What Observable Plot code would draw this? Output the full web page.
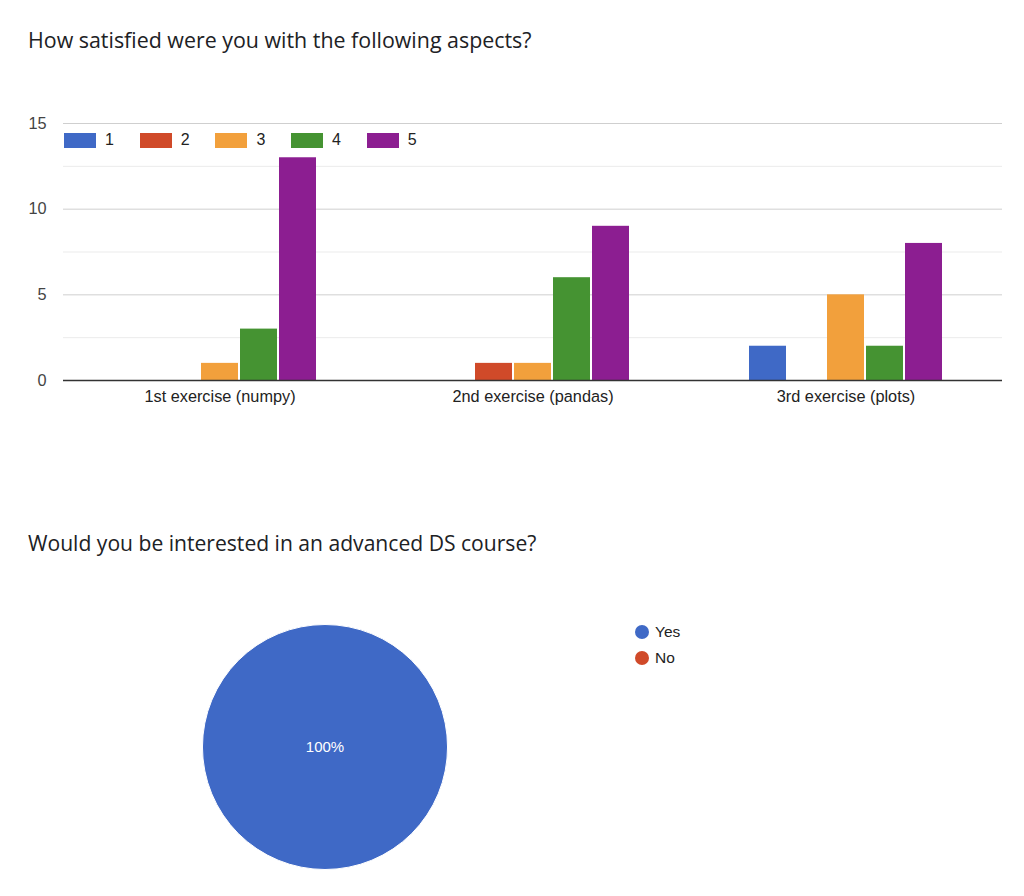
<!DOCTYPE html>
<html>
<head>
<meta charset="utf-8">
<script src="https://cdn.jsdelivr.net/npm/d3@7"></script>
<script src="https://cdn.jsdelivr.net/npm/@observablehq/plot@0.6"></script>
<style>
  html, body { margin: 0; padding: 0; background: #fff; }
  body { width: 1024px; height: 896px; position: relative; overflow: hidden; font-family: "Liberation Sans", Arial, sans-serif; color: #202124; }
  .title { position: absolute; left: 28px; font-family: "Open Sans", sans-serif; font-size: 21.4px; line-height: 24px; color: #202124; white-space: nowrap; }
  #bars { position: absolute; left: 0; top: 100px; }
  #pie { position: absolute; left: 0; top: 560px; }
  #barLegend { position: absolute; left: 64px; top: 132px; display: flex; font-size: 16px; color: #222; }
  #barLegend .item { width: 75.7px; display: flex; align-items: center; height: 16px; }
  #barLegend .sw { width: 32px; height: 15px; margin-right: 9px; }
  #pieLegend { position: absolute; left: 635px; top: 623px; font-size: 15.5px; color: #222; }
  #pieLegend .item { display: flex; align-items: center; height: 18px; margin-bottom: 8px; }
  #pieLegend .dot { width: 14px; height: 14px; border-radius: 50%; margin-right: 6px; }
</style>
</head>
<body>
<div class="title" style="top:28px">How satisfied were you with the following aspects?</div>
<div id="bars"></div>
<div id="barLegend"></div>
<div class="title" style="top:531px; font-size:21.1px">Would you be interested in an advanced DS course?</div>
<div id="pie"></div>
<div id="pieLegend"></div>
<script>
// ---- Data: satisfaction ratings ----
const exercises = ["1st exercise (numpy)", "2nd exercise (pandas)", "3rd exercise (plots)"];
const ratings = ["1", "2", "3", "4", "5"];
const countsNumpy  = [0, 0, 1, 3, 13];
const countsPandas = [0, 1, 1, 6, 9];
const countsPlots  = [2, 0, 5, 2, 8];
const ratingColors = ["#3f69c6", "#d04a29", "#f2a03c", "#459332", "#8c1e91"];
const yTicks = [0, 5, 10, 15];
const yMinorGrid = [2.5, 7.5, 12.5];

// ---- Data: advanced course interest ----
const pieAnswers = ["Yes", "No"];
const pieValues = [100, 0];
const pieColors = ["#3f69c6", "#d04a29"];

const seriesByExercise = [countsNumpy, countsPandas, countsPlots];
const barData = [];
exercises.forEach((ex, i) => ratings.forEach((r, j) => barData.push({exercise: ex, rating: r, count: seriesByExercise[i][j]})));

const font = "Liberation Sans, Arial, sans-serif";

const barChart = Plot.plot({
  width: 1024,
  height: 310,
  marginTop: 23,
  marginBottom: 30,
  marginLeft: 63,
  marginRight: 22,
  style: {fontFamily: font, fontSize: "16.3px", color: "#444", background: "transparent"},
  fx: {domain: exercises, paddingInner: 0, paddingOuter: 0, label: null, axis: "bottom", tickSize: 0, tickPadding: 10},
  x: {domain: ratings, paddingInner: 0.04, paddingOuter: 1.52, axis: null},
  y: {domain: [0, 15], ticks: yTicks, tickSize: 0, tickPadding: 17, label: null},
  color: {domain: ratings, range: ratingColors},
  marks: [
    Plot.ruleY(yMinorGrid, {stroke: "#ebebeb", strokeWidth: 1}),
    Plot.ruleY(yTicks.filter(d => d > 0), {stroke: "#cfcfcf", strokeWidth: 1}),
    Plot.barY(barData, {fx: "exercise", x: "rating", y: "count", fill: "rating"}),
    Plot.ruleY([0], {stroke: "#333", strokeWidth: 1.5})
  ]
});
barChart.querySelectorAll("[aria-label='fx-axis tick label']").forEach(e => e.setAttribute("fill", "#222"));
document.getElementById("bars").appendChild(barChart);

// bar legend
const bl = document.getElementById("barLegend");
ratings.forEach((r, i) => {
  const it = document.createElement("div"); it.className = "item";
  const sw = document.createElement("div"); sw.className = "sw"; sw.style.background = ratingColors[i];
  const tx = document.createElement("span"); tx.textContent = r;
  it.appendChild(sw); it.appendChild(tx); bl.appendChild(it);
});

// ---- Pie chart ----
const pieData = pieAnswers.map((a, i) => ({answer: a, value: pieValues[i]}));
const pieRadius = 122.5;
const pieMark = (index, scales, values, dimensions) => {
  const cx = 325, cy = 187;
  const g = d3.create("svg:g").attr("transform", `translate(${cx},${cy})`);
  const total = d3.sum(pieData, d => d.value);
  const arcs = d3.pie().value(d => d.value).sort(null)(pieData).filter(a => a.data.value > 0);
  const arc = d3.arc().innerRadius(0).outerRadius(pieRadius);
  g.selectAll("path").data(arcs).join("path")
    .attr("d", arc)
    .attr("fill", a => scales.color(a.data.answer))
    .attr("stroke", "#fff").attr("stroke-width", 1);
  g.selectAll("text").data(arcs).join("text")
    .attr("transform", a => arcs.length === 1 ? "translate(0,0)" : `translate(${arc.centroid(a)})`)
    .attr("text-anchor", "middle").attr("dy", "0.35em")
    .attr("fill", "#fff").attr("font-size", 15)
    .text(a => `${Math.round(a.data.value / total * 100)}%`);
  return g.node();
};
const pieChart = Plot.plot({
  width: 1024,
  height: 336,
  margin: 0,
  style: {fontFamily: font, background: "transparent"},
  color: {domain: pieAnswers, range: pieColors},
  x: {axis: null}, y: {axis: null},
  marks: [
    Plot.dot(pieData, {fill: "answer", r: 0, x: () => 0, y: () => 0}),
    pieMark
  ]
});
document.getElementById("pie").appendChild(pieChart);

// pie legend
const pl = document.getElementById("pieLegend");
pieAnswers.forEach((a, i) => {
  const it = document.createElement("div"); it.className = "item";
  const dot = document.createElement("div"); dot.className = "dot"; dot.style.background = pieColors[i];
  const tx = document.createElement("span"); tx.textContent = a;
  it.appendChild(dot); it.appendChild(tx); pl.appendChild(it);
});
</script>
</body>
</html>
